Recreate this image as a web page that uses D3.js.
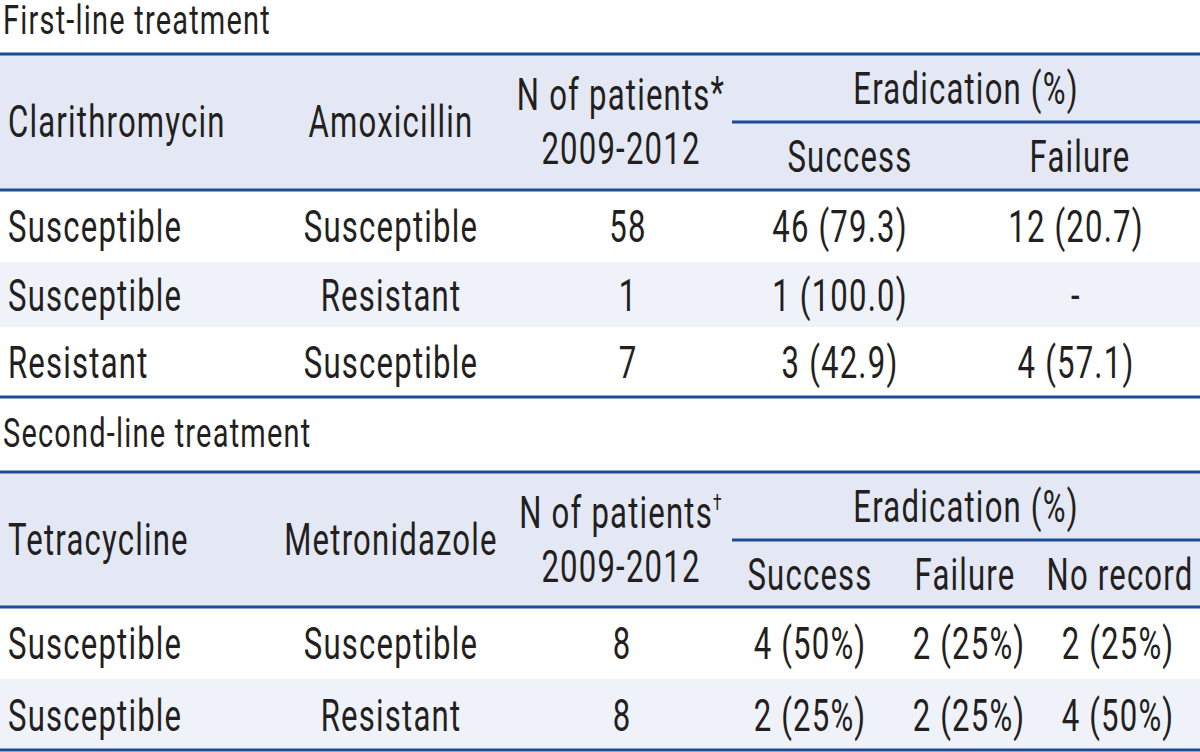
<!DOCTYPE html>
<html><head><meta charset="utf-8">
<script src="https://cdn.jsdelivr.net/npm/d3@7"></script>
<style>
html,body{margin:0;padding:0;background:#fff;}
svg text{font-family:Roboto,"Liberation Sans Narrow","DejaVu Sans Condensed",sans-serif;font-weight:400;fill:#231f20;}
</style></head>
<body><svg id="c" width="1200" height="752"></svg>
<script>
// ---- data ----
const titles = ["First-line treatment", "Second-line treatment"];
const header1 = ["Clarithromycin", "Amoxicillin", "N of patients", "2009-2012", "Eradication (%)"];
const sub1 = ["Success", "Failure"];
const mark1 = "*";
const rows1 = [
  ["Susceptible", "Susceptible", "58", "46 (79.3)", "12 (20.7)"],
  ["Susceptible", "Resistant", "1", "1 (100.0)", "-"],
  ["Resistant", "Susceptible", "7", "3 (42.9)", "4 (57.1)"]
];
const header2 = ["Tetracycline", "Metronidazole", "N of patients", "2009-2012", "Eradication (%)"];
const sub2 = ["Success", "Failure", "No record"];
const mark2 = "\u2020";
const rows2 = [
  ["Susceptible", "Susceptible", "8", "4 (50%)", "2 (25%)", "2 (25%)"],
  ["Susceptible", "Resistant", "8", "2 (25%)", "2 (25%)", "4 (50%)"]
];

// ---- drawing ----
const svg = d3.select("#c");
const W = 1200, FS = 44, LS = 1.7;
const lineColor = "#1f4b94", headFill = "#e3e8f4", altFill = "#eff2f9";

// calibrate horizontal condensing of the font
const probe = svg.append("text").attr("font-size", FS).text("Susceptible");
const SX = 0.965 * 167 / probe.node().getComputedTextLength();
probe.remove();

function txt(g, s, x, y, anchor, size, sup) {
  const t = g.append("g").attr("transform", `translate(${x},${y}) scale(${SX},1)`)
    .append("text").attr("text-anchor", anchor || "start").attr("font-size", size || FS)
    .attr("letter-spacing", LS);
  t.append("tspan").text(s);
  if (sup) t.append("tspan").text(sup).attr("font-size", sup === "*" ? (size||FS) : 22).attr("dy", sup === "*" ? -2 : -18);
  return t;
}
function hline(y, x0, x1) {
  svg.append("line").attr("x1", x0).attr("x2", x1).attr("y1", y).attr("y2", y)
    .attr("stroke", lineColor).attr("stroke-width", 3);
}

function table(cfg) {
  const g = svg.append("g");
  txt(g, cfg.title, 3, cfg.titleBase, "start", 41);
  g.append("rect").attr("x", 0).attr("y", cfg.top).attr("width", W).attr("height", cfg.headBottom - cfg.top).attr("fill", headFill);
  cfg.rows.forEach((r, i) => {
    const y0 = cfg.rowTops[i], y1 = cfg.rowTops[i + 1] !== undefined ? cfg.rowTops[i + 1] : cfg.bottom;
    if (i % 2 === 1) g.append("rect").attr("x", 0).attr("y", y0).attr("width", W).attr("height", y1 - y0).attr("fill", altFill);
    r.forEach((v, j) => {
      txt(g, v, cfg.cols[j], (y0 + y1) / 2 + 16, j === 0 ? "start" : "middle");
    });
  });
  const h = cfg.header;
  const mid = (cfg.top + cfg.headBottom) / 2;
  txt(g, h[0], cfg.cols[0], mid + 15, "start");
  txt(g, h[1], cfg.cols[1], mid + 15, "middle");
  txt(g, h[2], cfg.nCenter, mid - 12, "middle", FS, cfg.mark);
  txt(g, h[3], cfg.nCenter, mid + 42, "middle");
  txt(g, h[4], cfg.eradCenter, (cfg.top + cfg.subLine) / 2 + 16, "middle");
  cfg.sub.forEach((s, k) => txt(g, s, cfg.subCols[k], (cfg.subLine + cfg.headBottom) / 2 + 16, "middle"));
  hline(cfg.top, 0, W);
  hline(cfg.subLine, cfg.subX0, W);
  hline(cfg.headBottom, 0, W);
  hline(cfg.bottom, 0, W);
}

table({
  title: titles[0], titleBase: 34, top: 54, subLine: 122, headBottom: 190,
  rowTops: [190, 262, 327], bottom: 397, subX0: 732,
  header: header1, sub: sub1, mark: mark1, rows: rows1,
  cols: [8, 391, 628, 840, 1076], nCenter: 621, eradCenter: 966, subCols: [850, 1080]
});
table({
  title: titles[1], titleBase: 447, top: 472, subLine: 540, headBottom: 607,
  rowTops: [607, 679], bottom: 750, subX0: 732,
  header: header2, sub: sub2, mark: mark2, rows: rows2,
  cols: [8, 391, 622, 810, 969, 1118], nCenter: 621, eradCenter: 966, subCols: [810, 965, 1120]
});
</script></body></html>
